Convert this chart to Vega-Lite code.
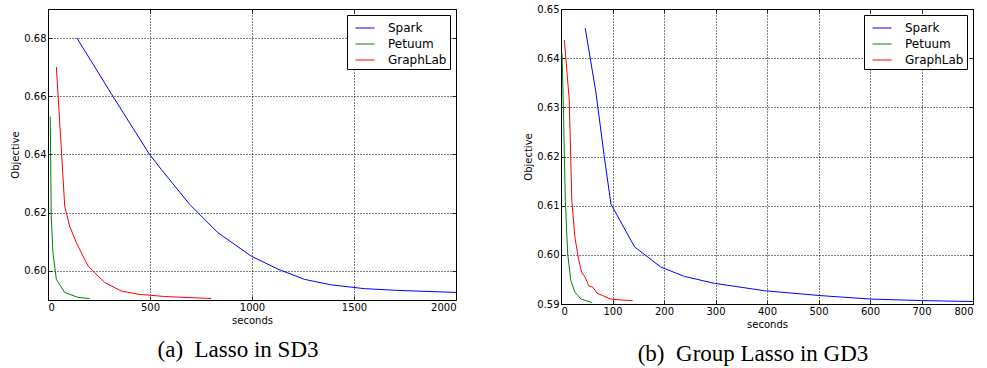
{
  "$schema": "https://vega.github.io/schema/vega-lite/v6.json",
  "padding": {"left": 10, "top": 3, "right": 0, "bottom": 0},
  "spacing": 64,
  "background": "white",
  "config": {
    "view": {"stroke": "black", "strokeWidth": 1},
    "font": "DejaVu Sans",
    "axis": {
      "grid": true, "gridColor": "black", "gridDash": [1, 2], "gridOpacity": 1, "gridWidth": 1,
      "domain": false, "tickColor": "black", "tickSize": -4, "tickWidth": 0.8,
      "labelColor": "black", "labelFontSize": 10, "labelFont": "DejaVu Sans", "labelPadding": 6,
      "titleFontSize": 10, "titleFont": "DejaVu Sans", "titleFontWeight": "normal", "titleColor": "black", "titlePadding": 3
    },
    "legend": {
      "orient": "top-right", "offset": 6, "strokeColor": "black", "fillColor": "white", "padding": 3,
      "cornerRadius": 0, "symbolType": "stroke", "symbolSize": 361, "symbolStrokeWidth": 1, "symbolOffset": 5,
      "labelFontSize": 12, "labelFont": "DejaVu Sans", "labelColor": "black", "labelOffset": 13, "rowPadding": -1
    },
    "title": {"font": "Liberation Serif", "fontSize": 23, "fontWeight": "normal", "color": "black", "orient": "bottom", "anchor": "middle", "offset": 14, "dx": -14}
  },
  "resolve": {"scale": {"color": "independent"}, "legend": {"color": "independent"}},
  "hconcat": [
    {
      "width": 408, "height": 291,
      "title": {"text": "(a)\u00a0 Lasso in SD3"},
      "data": {"values": [
        {"s": "Spark", "t": 142, "v": 0.68}, {"s": "Spark", "t": 318, "v": 0.66}, {"s": "Spark", "t": 498, "v": 0.64},
        {"s": "Spark", "t": 555, "v": 0.6349}, {"s": "Spark", "t": 694, "v": 0.6229}, {"s": "Spark", "t": 833, "v": 0.6131},
        {"s": "Spark", "t": 996, "v": 0.6051}, {"s": "Spark", "t": 1127, "v": 0.6006}, {"s": "Spark", "t": 1257, "v": 0.5971},
        {"s": "Spark", "t": 1388, "v": 0.5952}, {"s": "Spark", "t": 1551, "v": 0.5939}, {"s": "Spark", "t": 1714, "v": 0.5933},
        {"s": "Spark", "t": 2000, "v": 0.5926},
        {"s": "Petuum", "t": 11, "v": 0.6531}, {"s": "Petuum", "t": 16, "v": 0.6189}, {"s": "Petuum", "t": 24, "v": 0.6063},
        {"s": "Petuum", "t": 41, "v": 0.5971}, {"s": "Petuum", "t": 82, "v": 0.5926}, {"s": "Petuum", "t": 147, "v": 0.5909},
        {"s": "Petuum", "t": 204, "v": 0.5905},
        {"s": "GraphLab", "t": 41, "v": 0.6701}, {"s": "GraphLab", "t": 82, "v": 0.6223}, {"s": "GraphLab", "t": 106, "v": 0.6154},
        {"s": "GraphLab", "t": 139, "v": 0.6097}, {"s": "GraphLab", "t": 196, "v": 0.6017}, {"s": "GraphLab", "t": 278, "v": 0.596},
        {"s": "GraphLab", "t": 359, "v": 0.5931}, {"s": "GraphLab", "t": 441, "v": 0.592}, {"s": "GraphLab", "t": 571, "v": 0.5912},
        {"s": "GraphLab", "t": 800, "v": 0.5905}
      ]},
      "layer": [
        {
          "mark": {"type": "line", "strokeWidth": 1},
          "encoding": {
            "x": {"field": "t", "type": "quantitative", "scale": {"domain": [0, 2000], "nice": false},
                  "axis": {"title": "seconds", "values": [0, 500, 1000, 1500, 2000], "format": "d"}},
            "y": {"field": "v", "type": "quantitative", "scale": {"domain": [0.59, 0.69], "nice": false, "zero": false},
                  "axis": {"title": "Objective", "values": [0.6, 0.62, 0.64, 0.66, 0.68], "format": ".2f"}},
            "color": {"field": "s", "type": "nominal", "scale": {"domain": ["Spark", "Petuum", "GraphLab"], "range": ["#0000ff", "#008000", "#ff0000"]},
                      "legend": {"title": null}}
          }
        },
        {
          "mark": {"type": "line", "opacity": 0},
          "encoding": {
            "x": {"field": "t", "type": "quantitative",
                  "axis": {"orient": "top", "title": null, "labels": false, "grid": false, "values": [0, 500, 1000, 1500, 2000], "minExtent": 0, "maxExtent": 0}},
            "y": {"field": "v", "type": "quantitative",
                  "axis": {"orient": "right", "title": null, "labels": false, "grid": false, "values": [0.6, 0.62, 0.64, 0.66, 0.68], "minExtent": 0, "maxExtent": 0}}
          }
        }
      ],
      "resolve": {"axis": {"x": "independent", "y": "independent"}}
    },
    {
      "width": 412, "height": 295,
      "title": {"text": "(b)\u00a0 Group Lasso in GD3"},
      "data": {"values": [
        {"s": "Spark", "t": 47, "v": 0.6461}, {"s": "Spark", "t": 68, "v": 0.6329}, {"s": "Spark", "t": 84, "v": 0.62},
        {"s": "Spark", "t": 97, "v": 0.6103}, {"s": "Spark", "t": 143, "v": 0.6016}, {"s": "Spark", "t": 194, "v": 0.5975},
        {"s": "Spark", "t": 240, "v": 0.5956}, {"s": "Spark", "t": 298, "v": 0.5942}, {"s": "Spark", "t": 395, "v": 0.5927},
        {"s": "Spark", "t": 505, "v": 0.5917}, {"s": "Spark", "t": 602, "v": 0.591}, {"s": "Spark", "t": 700, "v": 0.5907},
        {"s": "Spark", "t": 800, "v": 0.5905},
        {"s": "Petuum", "t": 2, "v": 0.641}, {"s": "Petuum", "t": 5, "v": 0.6281}, {"s": "Petuum", "t": 8.4, "v": 0.6111},
        {"s": "Petuum", "t": 13, "v": 0.6002}, {"s": "Petuum", "t": 19, "v": 0.5948}, {"s": "Petuum", "t": 27, "v": 0.5924},
        {"s": "Petuum", "t": 39, "v": 0.591}, {"s": "Petuum", "t": 60, "v": 0.5903},
        {"s": "GraphLab", "t": 6.5, "v": 0.6437}, {"s": "GraphLab", "t": 16, "v": 0.6315}, {"s": "GraphLab", "t": 21, "v": 0.6111},
        {"s": "GraphLab", "t": 27, "v": 0.6036}, {"s": "GraphLab", "t": 34, "v": 0.5992}, {"s": "GraphLab", "t": 40, "v": 0.5965},
        {"s": "GraphLab", "t": 47, "v": 0.5954}, {"s": "GraphLab", "t": 54, "v": 0.5937}, {"s": "GraphLab", "t": 62, "v": 0.5934},
        {"s": "GraphLab", "t": 70, "v": 0.5922}, {"s": "GraphLab", "t": 81, "v": 0.5917}, {"s": "GraphLab", "t": 97, "v": 0.591},
        {"s": "GraphLab", "t": 117, "v": 0.5908}, {"s": "GraphLab", "t": 139, "v": 0.5907}
      ]},
      "layer": [
        {
          "mark": {"type": "line", "strokeWidth": 1},
          "encoding": {
            "x": {"field": "t", "type": "quantitative", "scale": {"domain": [0, 800], "nice": false},
                  "axis": {"title": "seconds", "values": [0, 100, 200, 300, 400, 500, 600, 700, 800], "format": "d"}},
            "y": {"field": "v", "type": "quantitative", "scale": {"domain": [0.59, 0.65], "nice": false, "zero": false},
                  "axis": {"title": "Objective", "values": [0.59, 0.6, 0.61, 0.62, 0.63, 0.64, 0.65], "format": ".2f"}},
            "color": {"field": "s", "type": "nominal", "scale": {"domain": ["Spark", "Petuum", "GraphLab"], "range": ["#0000ff", "#008000", "#ff0000"]},
                      "legend": {"title": null}}
          }
        },
        {
          "mark": {"type": "line", "opacity": 0},
          "encoding": {
            "x": {"field": "t", "type": "quantitative",
                  "axis": {"orient": "top", "title": null, "labels": false, "grid": false, "values": [0, 100, 200, 300, 400, 500, 600, 700, 800], "minExtent": 0, "maxExtent": 0}},
            "y": {"field": "v", "type": "quantitative",
                  "axis": {"orient": "right", "title": null, "labels": false, "grid": false, "values": [0.59, 0.6, 0.61, 0.62, 0.63, 0.64, 0.65], "minExtent": 0, "maxExtent": 0}}
          }
        }
      ],
      "resolve": {"axis": {"x": "independent", "y": "independent"}}
    }
  ]
}
